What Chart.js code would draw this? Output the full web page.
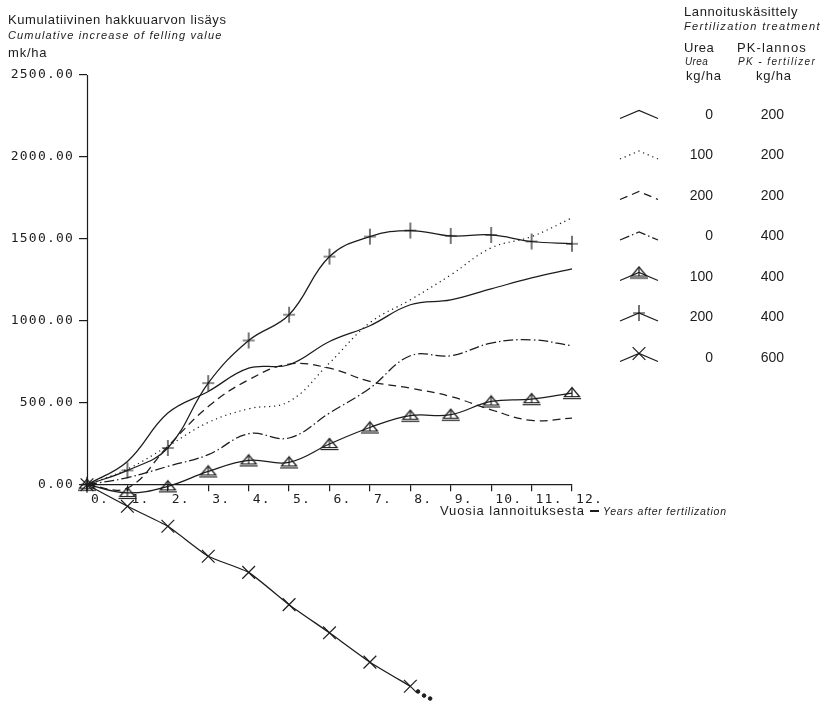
<!DOCTYPE html>
<html>
<head>
<meta charset="utf-8">
<script src="https://cdn.jsdelivr.net/npm/chart.js@4.4.0/dist/chart.umd.min.js"></script>
<style>
  html, body { margin: 0; padding: 0; background: #fff; }
  canvas { display: block; }
</style>
</head>
<body>
<canvas id="chart" width="821" height="701"></canvas>
<script>
// ─── Data (mk/ha) ───
const years = [0, 1, 2, 3, 4, 5, 6, 7, 8, 9, 10, 11, 12];
const yTickValues = [0, 500, 1000, 1500, 2000, 2500];

const u0p200   = [0, 142, 437, 569, 711, 732, 874, 970, 1098, 1128, 1195, 1262, 1317];
const u100p200 = [0, 95, 235, 380, 463, 508, 743, 988, 1128, 1280, 1445, 1514, 1628];
const u200p200 = [0, -20, 234, 477, 640, 736, 711, 630, 589, 538, 457, 392, 406];
const u0p400   = [0, 43, 112, 183, 311, 285, 437, 589, 787, 787, 864, 884, 848];
const u100p400 = [0, -50, -10, 81, 148, 136, 248, 349, 421, 427, 508, 522, 559];
const u200p400 = [0, 87, 224, 620, 880, 1037, 1392, 1514, 1551, 1518, 1524, 1484, 1470];
const u0p600   = [0, -132, -254, -437, -535, -732, -904, -1083, -1230];
// trailing dots after the last plotted year of the 0/600 curve
const trailYears  = [8.19, 8.34, 8.49];
const trailValues = [-1262, -1287, -1305];

const ureaRates = ['0', '100', '200', '0', '100', '200', '0'];
const pkRates   = ['200', '200', '200', '400', '400', '400', '600'];

// ─── Style ───
const ink = '#1c1c1c';
const sans = '"Liberation Sans", Arial, sans-serif';
const mono = '"DejaVu Sans Mono", monospace';

// ─── Marker images ───
function triangleMarker() {
  const c = document.createElement('canvas');
  c.width = 20; c.height = 14;
  const g = c.getContext('2d');
  g.strokeStyle = ink; g.lineWidth = 1.2;
  g.beginPath(); g.moveTo(10, 1.5); g.lineTo(2.5, 10.5); g.lineTo(17.5, 10.5); g.closePath(); g.stroke();
  g.beginPath(); g.moveTo(10, 1.5); g.lineTo(10, 10.5); g.stroke();
  g.beginPath(); g.moveTo(1, 12.5); g.lineTo(19, 12.5); g.stroke();
  return c;
}
function plusMarker() {
  const c = document.createElement('canvas');
  c.width = 14; c.height = 18;
  const g = c.getContext('2d');
  g.strokeStyle = ink; g.lineWidth = 1.2;
  g.beginPath(); g.moveTo(1, 9); g.lineTo(13, 9); g.moveTo(7, 1); g.lineTo(7, 17); g.stroke();
  return c;
}
const triImg = triangleMarker();
const plusImg = plusMarker();

function xy(vals) { return vals.map((v, i) => ({ x: years[i], y: v })); }

function line(data, extra) {
  return Object.assign({
    data: xy(data),
    borderColor: ink,
    borderWidth: 1.25,
    pointRadius: 0,
    pointBorderColor: ink,
    pointBackgroundColor: 'rgba(0,0,0,0)',
    pointBorderWidth: 1.2,
    tension: 0.4,
    fill: false,
    clip: false
  }, extra);
}

const datasets = [
  line(u0p200, {}),
  line(u100p200, { borderDash: [1.2, 3.8] }),
  line(u200p200, { borderDash: [8, 5] }),
  line(u0p400, { borderDash: [10, 3, 1.5, 3] }),
  line(u100p400, { pointStyle: triImg, pointRadius: 8 }),
  line(u200p400, { pointStyle: plusImg, pointRadius: 8 }),
  line(u0p600, { pointStyle: 'crossRot', pointRadius: 9, tension: 0.15 }),
  {
    data: trailYears.map((t, i) => ({ x: t, y: trailValues[i] })),
    showLine: false,
    pointRadius: 1.8,
    pointStyle: 'circle',
    pointBackgroundColor: ink,
    pointBorderColor: ink,
    clip: false
  }
];

// ─── Text, legend, y-axis line ───
function txt(ctx, s, x, y, font, align, spacing) {
  ctx.font = font;
  ctx.textAlign = align || 'left';
  ctx.textBaseline = 'middle';
  ctx.letterSpacing = spacing || '0px';
  ctx.fillText(s, x, y);
}

const decorPlugin = {
  id: 'decor',
  beforeDraw(chart) {
    chart.ctx.letterSpacing = '1.2px';
  },
  beforeDatasetsDraw(chart) {
    chart.ctx.letterSpacing = '0px';
  },
  afterDraw(chart) {
    const ctx = chart.ctx;
    const ys = chart.scales.y;
    const left = Math.round(chart.chartArea.left) + 0.5;
    ctx.save();
    ctx.strokeStyle = ink;
    ctx.fillStyle = ink;
    ctx.lineWidth = 1.2;

    // y axis line only over the labelled range
    ctx.beginPath();
    ctx.moveTo(left, ys.getPixelForValue(2500));
    ctx.lineTo(left, ys.getPixelForValue(0) + 6);
    ctx.stroke();

    // titles
    txt(ctx, 'Kumulatiivinen hakkuuarvon lisäys', 8, 20, `13px ${sans}`, 'left', '0.6px');
    txt(ctx, 'Cumulative increase of felling value', 8, 36, `italic 11px ${sans}`, 'left', '1.15px');
    txt(ctx, 'mk/ha', 8, 53, `13px ${sans}`, 'left', '0.8px');

    txt(ctx, 'Vuosia lannoituksesta', 440, 511, `13px ${sans}`, 'left', '0.9px');
    ctx.fillRect(590, 510, 9, 2);
    txt(ctx, 'Years after fertilization', 603, 512, `italic 10.5px ${sans}`, 'left', '0.8px');

    // legend header
    txt(ctx, 'Lannoituskäsittely', 684, 12, `13px ${sans}`, 'left', '0.6px');
    txt(ctx, 'Fertilization treatment', 684, 27, `italic 11px ${sans}`, 'left', '1.35px');
    txt(ctx, 'Urea', 684, 48, `13px ${sans}`, 'left', '0.5px');
    txt(ctx, 'PK-lannos', 737, 48, `13px ${sans}`, 'left', '1.1px');
    txt(ctx, 'Urea', 685, 62, `italic 10px ${sans}`, 'left', '0.4px');
    txt(ctx, 'PK - fertilizer', 738, 62, `italic 10px ${sans}`, 'left', '1.4px');
    txt(ctx, 'kg/ha', 686, 76, `13px ${sans}`, 'left', '0.8px');
    txt(ctx, 'kg/ha', 756, 76, `13px ${sans}`, 'left', '0.8px');

    // legend rows
    for (let i = 0; i < 7; i++) {
      const ds = datasets[i];
      const rowY = 115 + i * 40.5;
      ctx.save();
      ctx.lineWidth = 1.25;
      ctx.setLineDash(ds.borderDash || []);
      ctx.beginPath();
      ctx.moveTo(620, rowY + 3.5);
      ctx.lineTo(639, rowY - 4.5);
      ctx.lineTo(658, rowY + 3.5);
      ctx.stroke();
      ctx.restore();
      if (ds.pointRadius) {
        Chart.helpers.drawPoint(ctx, {
          pointStyle: ds.pointStyle, radius: ds.pointRadius, rotation: 0, borderWidth: 1.2
        }, 639, rowY - 4.5);
      }
      txt(ctx, ureaRates[i], 713, rowY, `14px ${sans}`, 'right');
      txt(ctx, pkRates[i], 784, rowY, `14px ${sans}`, 'right');
    }
    ctx.restore();
  }
};

new Chart(document.getElementById('chart'), {
  type: 'scatter',
  data: { datasets },
  options: {
    responsive: false,
    animation: false,
    showLine: true,
    layout: { autoPadding: false, padding: { left: 0, top: 75, right: 249, bottom: 0 } },
    plugins: { legend: { display: false }, tooltip: { enabled: false } },
    scales: {
      x: {
        type: 'linear',
        position: { y: 0 },
        min: 0,
        max: 12,
        afterFit: s => { s.height = 0; s.paddingLeft = 0; s.paddingRight = 0; },
        ticks: {
          stepSize: 1,
          autoSkip: false,
          maxRotation: 0,
          align: 'start',
          labelOffset: 4,
          padding: 1,
          color: ink,
          font: { family: mono, size: 13 },
          callback: v => v + '.'
        },
        grid: { drawOnChartArea: false, drawTicks: true, tickLength: 6, color: ink, lineWidth: 1.2 },
        border: { display: true, color: ink, width: 1.2 }
      },
      y: {
        type: 'linear',
        min: -1320,
        max: 2500,
        afterBuildTicks: s => { s.ticks = yTickValues.map(v => ({ value: v })); },
        afterFit: s => { s.width = 87; s.paddingTop = 0; s.paddingBottom = 0; },
        ticks: {
          padding: 5,
          color: ink,
          font: { family: mono, size: 13 },
          callback: v => Number(v).toFixed(2)
        },
        grid: { drawOnChartArea: false, drawTicks: true, tickLength: 8, color: ink, lineWidth: 1.2 },
        border: { display: false }
      }
    }
  },
  plugins: [decorPlugin]
});
</script>
</body>
</html>
